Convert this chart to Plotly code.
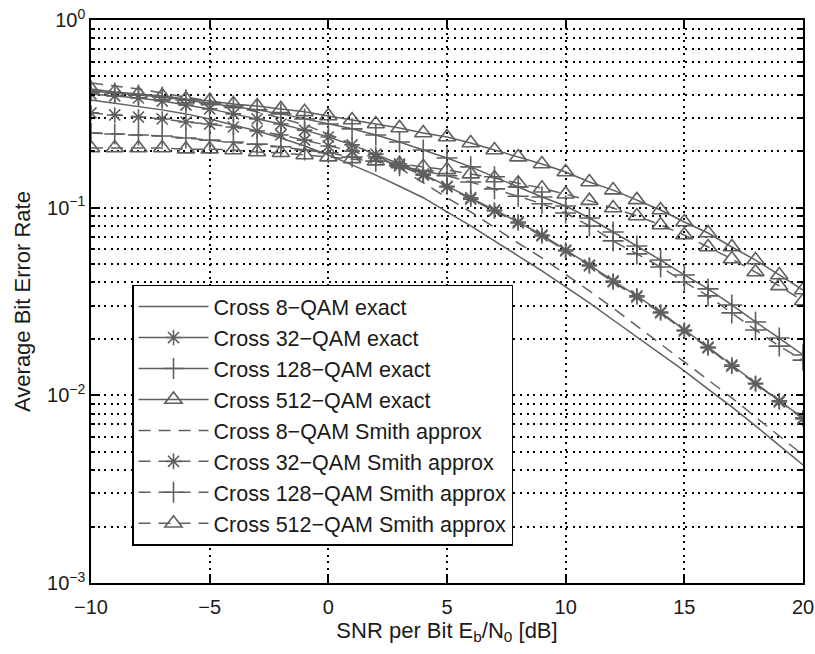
import plotly.graph_objects as go

snr_db = list(range(-10, 21))

ber_8_exact = [0.375, 0.361, 0.348, 0.332, 0.316, 0.297, 0.276, 0.256, 0.235, 0.213,
               0.191, 0.169, 0.149, 0.130, 0.113, 0.0949, 0.0799, 0.0665, 0.0553, 0.0460,
               0.0378, 0.0311, 0.0252, 0.0205, 0.0166, 0.0135, 0.0108, 0.00868, 0.00687,
               0.00544, 0.00426]
ber_32_exact = [0.403, 0.394, 0.384, 0.370, 0.352, 0.336, 0.316, 0.297, 0.279, 0.259,
                0.238, 0.216, 0.193, 0.171, 0.151, 0.130, 0.113, 0.0972, 0.0839, 0.0715,
                0.0595, 0.0495, 0.0407, 0.0339, 0.0278, 0.0223, 0.0181, 0.0145, 0.0116,
                0.00934, 0.00758]
ber_128_exact = [0.418, 0.408, 0.398, 0.389, 0.375, 0.361, 0.348, 0.332, 0.316, 0.297,
                 0.279, 0.263, 0.244, 0.224, 0.203, 0.184, 0.165, 0.146, 0.129, 0.114,
                 0.102, 0.0881, 0.0742, 0.0625, 0.0526, 0.0438, 0.0369, 0.0303, 0.0246,
                 0.0202, 0.0164]
ber_512_exact = [0.429, 0.413, 0.403, 0.394, 0.379, 0.370, 0.357, 0.348, 0.336, 0.324,
                 0.308, 0.293, 0.279, 0.266, 0.250, 0.238, 0.221, 0.203, 0.186, 0.171,
                 0.155, 0.137, 0.124, 0.110, 0.0972, 0.0839, 0.0733, 0.0617, 0.0526,
                 0.0438, 0.0364]
ber_8_smith = [0.462, 0.445, 0.429, 0.408, 0.389, 0.370, 0.348, 0.324, 0.300, 0.276,
               0.247, 0.218, 0.191, 0.163, 0.135, 0.113, 0.0949, 0.0780, 0.0648, 0.0540,
               0.0443, 0.0360, 0.0292, 0.0234, 0.0188, 0.0151, 0.0121, 0.00969, 0.00767,
               0.00608, 0.00481]
ber_32_smith = [0.320, 0.312, 0.304, 0.297, 0.286, 0.279, 0.269, 0.256, 0.244, 0.229,
                0.213, 0.200, 0.184, 0.167, 0.149, 0.129, 0.111, 0.0960, 0.0829, 0.0707,
                0.0588, 0.0489, 0.0402, 0.0334, 0.0275, 0.0220, 0.0179, 0.0143, 0.0115,
                0.00922, 0.00749]
ber_128_smith = [0.250, 0.247, 0.244, 0.241, 0.235, 0.229, 0.224, 0.218, 0.211, 0.203,
                 0.196, 0.186, 0.177, 0.167, 0.157, 0.148, 0.137, 0.126, 0.115, 0.105,
                 0.0937, 0.0799, 0.0665, 0.0567, 0.0483, 0.0402, 0.0339, 0.0275, 0.0223,
                 0.0183, 0.0154]
ber_512_smith = [0.208, 0.208, 0.208, 0.208, 0.205, 0.205, 0.203, 0.198, 0.196, 0.191,
                 0.186, 0.182, 0.177, 0.171, 0.165, 0.159, 0.151, 0.144, 0.135, 0.127,
                 0.118, 0.109, 0.0996, 0.0903, 0.0809, 0.0715, 0.0617, 0.0533, 0.0454,
                 0.0383, 0.0318]

names = ["Cross 8\u2212QAM exact", "Cross 32\u2212QAM exact", "Cross 128\u2212QAM exact",
         "Cross 512\u2212QAM exact", "Cross 8\u2212QAM Smith approx",
         "Cross 32\u2212QAM Smith approx", "Cross 128\u2212QAM Smith approx",
         "Cross 512\u2212QAM Smith approx"]
series = [ber_8_exact, ber_32_exact, ber_128_exact, ber_512_exact,
          ber_8_smith, ber_32_smith, ber_128_smith, ber_512_smith]
symbols = [None, "asterisk-open", "cross-thin-open", "triangle-up-open",
           None, "asterisk-open", "cross-thin-open", "triangle-up-open"]
sizes = [0, 13, 15, 15, 0, 13, 15, 15]
dashes = ["solid"] * 4 + ["12px,8px"] * 4

xtick_vals = [-10, -5, 0, 5, 10, 15, 20]
ytick_vals = [1e-3, 1e-2, 1e-1, 1]
ytick_text = ["10<sup>\u22123</sup>", "10<sup>\u22122</sup>", "10<sup>\u22121</sup>", "10<sup>0</sup>"]
yminor = [m * 10 ** e for e in (-3, -2, -1) for m in range(2, 10)]

C = "#5f5f5f"
TXT = "#1a1a1a"
fig = go.Figure()
for i, (nm, ys) in enumerate(zip(names, series)):
    if symbols[i] is None:
        fig.add_trace(go.Scatter(x=snr_db, y=ys, mode="lines", name=nm, legendgroup=str(i),
                                 line=dict(color=C, width=1.5, dash=dashes[i])))
    else:
        fig.add_trace(go.Scatter(x=snr_db, y=ys, mode="lines+markers", name=nm, legendgroup=str(i),
                                 line=dict(color=C, width=1.5, dash=dashes[i]),
                                 marker=dict(symbol=symbols[i], size=sizes[i], color=C,
                                             line=dict(color=C, width=1.6))))

font = "Liberation Sans, Arial, Helvetica, sans-serif"
grid = dict(showgrid=True, gridcolor="black", gridwidth=1.5, griddash="2px,4.6px")
fig.update_layout(
    width=815, height=654,
    margin=dict(l=91, r=12, t=20, b=71),
    paper_bgcolor="white", plot_bgcolor="white",
    font=dict(family=font, size=20, color=TXT),
    showlegend=True,
    legend=dict(x=0.0576, y=0.530, xanchor="left", yanchor="top",
                bgcolor="white", bordercolor="black", borderwidth=1.5,
                font=dict(family=font, size=21.5, color=TXT),
                tracegroupgap=0, traceorder="grouped", itemwidth=70),
    xaxis=dict(range=[-10, 20], tickvals=xtick_vals, automargin=False,
               ticklabeloverflow="allow", ticklabelstandoff=5,
               tickfont=dict(family=font, size=20, color=TXT),
               showline=True, linecolor="black", linewidth=1.5, mirror="allticks",
               ticks="inside", ticklen=7, tickcolor="black", tickwidth=1.5,
               zeroline=False, **grid,
               title=dict(text="SNR per Bit E<sub>b</sub>/N<sub>0</sub> [dB]", standoff=0,
                          font=dict(family=font, size=22, color=TXT))),
    yaxis=dict(type="log", range=[-3, 0], tickvals=ytick_vals, ticktext=ytick_text,
               automargin=False, ticklabeloverflow="allow",
               tickfont=dict(family=font, size=20, color=TXT),
               showline=True, linecolor="black", linewidth=1.5, mirror="allticks",
               ticks="inside", ticklen=7, tickcolor="black", tickwidth=1.5,
               zeroline=False, **grid,
               minor=dict(tickvals=yminor, ticks="inside", ticklen=4, tickcolor="black", **grid),
               title=dict(text="Average Bit Error Rate", standoff=10,
                          font=dict(family=font, size=22, color=TXT))),
)
fig.write_html("out.html", config={"displayModeBar": False},
               post_script="document.body.style.margin='0px';")
